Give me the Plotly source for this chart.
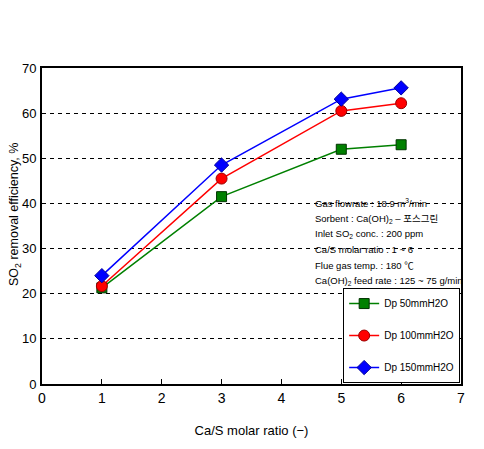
import plotly.graph_objects as go

ca_s_ratio = [1, 3, 5, 6]
dp50 = [21.3, 41.5, 52.0, 53.0]
dp100 = [21.7, 45.5, 60.5, 62.2]
dp150 = [24.0, 48.5, 63.1, 65.6]
series_names = ["Dp 50mmH2O", "Dp 100mmH2O", "Dp 150mmH2O"]
note_lines = [
    "Gas flowrate : 18.9 m<sup>3</sup>/min",
    "Sorbent : Ca(OH)<sub>2</sub> – 포스그린",
    "Inlet SO<sub>2</sub> conc. : 200 ppm",
    "Ca/S molar ratio : 1 ~ 6",
    "Flue gas temp. : 180 ℃",
    "Ca(OH)<sub>2</sub> feed rate : 125 ~ 75 g/min",
]

FONT = "Liberation Sans Narrow, Arial Narrow, Liberation Sans, Noto Sans CJK KR"
# target plot-area box in window pixels; page body adds an 8px offset
OFF = 8
L, R, T, B = 42, 461, 68, 384

fig = go.Figure()
fig.add_trace(go.Scatter(x=ca_s_ratio, y=dp50, name=series_names[0], mode="lines+markers",
                         legendgroup="a",
                         line=dict(color="#008000", width=1.5),
                         marker=dict(symbol="square", size=10, color="#008000",
                                     line=dict(color="#003300", width=1))))
fig.add_trace(go.Scatter(x=ca_s_ratio, y=dp100, name=series_names[1], mode="lines+markers",
                         legendgroup="b",
                         line=dict(color="#FF0000", width=1.5),
                         marker=dict(symbol="circle", size=11, color="#FF0000",
                                     line=dict(color="#990000", width=1))))
fig.add_trace(go.Scatter(x=ca_s_ratio, y=dp150, name=series_names[2], mode="lines+markers",
                         legendgroup="c",
                         line=dict(color="#0000FF", width=1.5),
                         marker=dict(symbol="diamond", size=11, color="#0000FF",
                                     line=dict(color="#000099", width=1))))

for i, t in enumerate(note_lines):
    px, py = 313, 203 + i * 15.6
    fig.add_annotation(x=(px - L) / (R - L), y=(B - py) / (B - T), xref="paper", yref="paper",
                       text=t, showarrow=False, xanchor="left", yanchor="middle",
                       font=dict(family=FONT, size=9.5, color="black"))

# y-axis title as rotated annotation
fig.add_annotation(x=(15 - L) / (R - L), y=(B - 215) / (B - T), xref="paper", yref="paper",
                   text="SO<sub>2</sub> removal efficiency, %", textangle=-90,
                   showarrow=False, xanchor="center", yanchor="middle",
                   font=dict(family=FONT, size=12.5, color="black"))

fig.update_layout(
    width=484, height=449,
    margin=dict(l=L - OFF, r=484 - (R - OFF), t=T - OFF, b=449 - (B - OFF)),
    paper_bgcolor="white", plot_bgcolor="white",
    font=dict(family=FONT, size=14, color="black"),
    showlegend=True,
    legend=dict(x=0.998, y=0.003, xanchor="right", yanchor="bottom",
                bgcolor="white", bordercolor="black", borderwidth=1,
                font=dict(family=FONT, size=10), itemwidth=30,
                tracegroupgap=13),
    xaxis=dict(range=[0, 7], dtick=1, showgrid=False, showline=True, linecolor="black",
               linewidth=2, mirror=True, ticks="inside", ticklen=5, tickcolor="black",
               tickfont=dict(size=14), zeroline=False, automargin=False,
               title=dict(text="Ca/S molar ratio (−)", font=dict(size=13), standoff=21)),
    yaxis=dict(range=[0, 70], dtick=10, showgrid=True, gridcolor="black", gridwidth=1,
               griddash="4px,4px", showline=True, linecolor="black", linewidth=2,
               mirror=True, ticks="", tickfont=dict(size=13), zeroline=False,
               automargin=False, ticklabelstandoff=1),
)

fig.write_html("out.html")
